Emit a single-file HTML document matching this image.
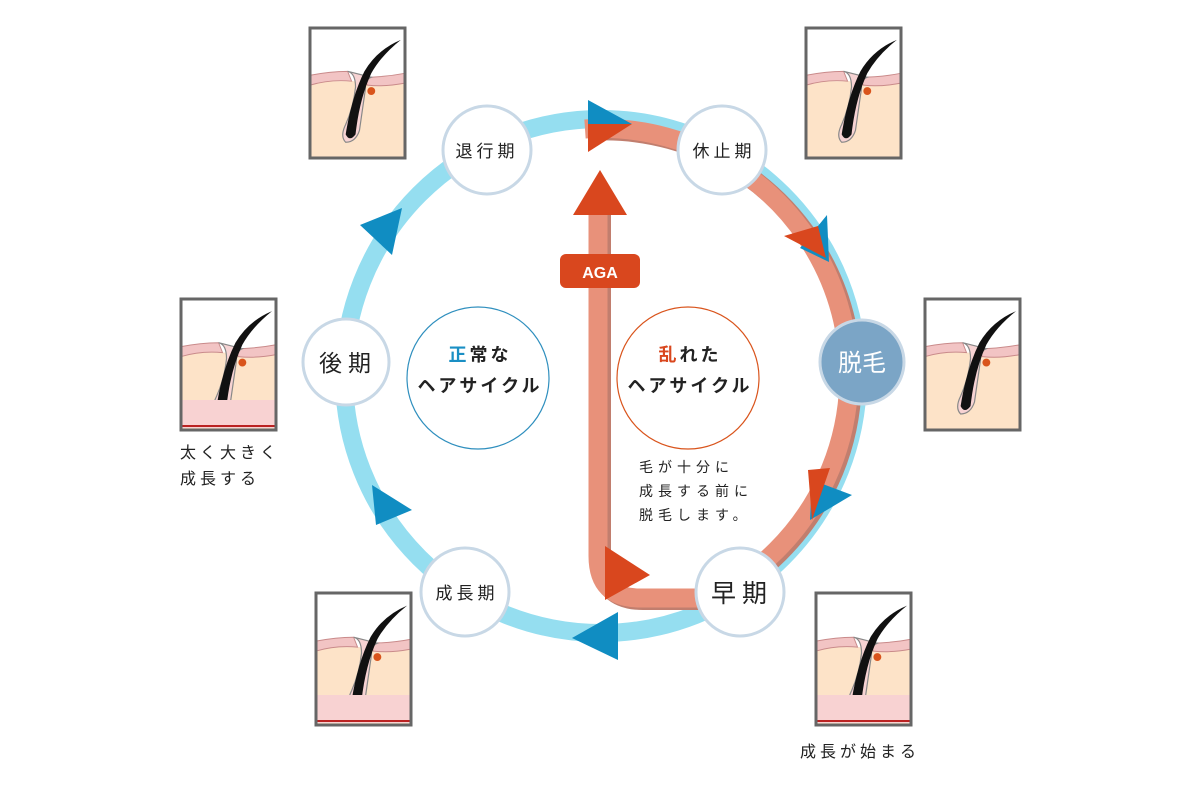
<!DOCTYPE html>
<html><head><meta charset="utf-8"><style>
body{margin:0;background:#fff;}
svg{display:block;}
text{font-family:"Liberation Sans","Noto Sans CJK JP",sans-serif;}
</style></head><body>
<svg width="1200" height="792" viewBox="0 0 1200 792" xmlns="http://www.w3.org/2000/svg">
<defs>
<symbol id="hair" viewBox="0 0 96 132">
<rect x="0" y="0" width="96" height="132" fill="#fff"/>
<rect x="0" y="54" width="96" height="78" fill="#fde3c8"/>
<path d="M0,48 Q20,44 38,44 L42,54 Q20,52 0,58 Z" fill="#f2c4c4" stroke="#c98a8a" stroke-width="1"/>
<path d="M54,50 Q75,50 96,46 L96,56 Q75,60 58,58 Z" fill="#f2c4c4" stroke="#c98a8a" stroke-width="1"/>
<path d="M38,44 Q46,46 46,60 Q44,80 36,98 Q30,110 36,116 Q46,116 50,104 L56,62 Q56,52 62,50 Z" fill="#f7d3d3" stroke="#888" stroke-width="1.2"/>
<path d="M36,108 Q42,70 55,44 Q68,22 92,12 Q72,28 62,46 Q50,72 46,108 Q40,116 36,108Z" fill="#111"/>
<circle cx="62" cy="64" r="4" fill="#d9541c"/>
</symbol>
</defs>

<circle cx="601" cy="376" r="257" fill="none" stroke="#95def0" stroke-width="18"/>
<path d="M585,129 A247,247 0 0 1 709,598 L640,598 Q598,598 598,556 L598,212" fill="none" stroke="#c17e6e" stroke-width="20" transform="translate(3,2)"/>
<path d="M585,129 A247,247 0 0 1 709,598 L640,598 Q598,598 598,556 L598,212" fill="none" stroke="#e8917a" stroke-width="19"/>
<polygon points="573,215 627,215 600,170" fill="#d9471e"/>
<rect x="560" y="254" width="80" height="34" rx="6" fill="#d9471e"/>
<text x="600" y="278" font-size="16" font-weight="bold" fill="#fff" text-anchor="middle">AGA</text>

<polygon points="588,100 632,124 588,124" fill="#108dc2"/>
<polygon points="827,215 829,262 800,248" fill="#108dc2"/>
<polygon points="852,495 810,520 812,480" fill="#108dc2"/>
<polygon points="618,612 618,660 572,638" fill="#108dc2"/>
<polygon points="372,485 412,510 376,525" fill="#108dc2"/>
<polygon points="360,225 402,208 392,255" fill="#108dc2"/>
<polygon points="588,124 632,124 588,152" fill="#d9471e"/>
<polygon points="784,236 818,226 826,258" fill="#d9471e"/>
<polygon points="808,470 830,468 812,520" fill="#d9471e"/>
<polygon points="605,546 650,575 605,600" fill="#d9471e"/>

<g stroke="#c8d8e6" stroke-width="3" fill="#fff">
<circle cx="487" cy="150" r="44"/>
<circle cx="722" cy="150" r="44"/>
<circle cx="346" cy="362" r="43"/>
<circle cx="740" cy="592" r="44"/>
<circle cx="465" cy="592" r="44"/>
</g>
<circle cx="862" cy="362" r="42" fill="#7ba5c6" stroke="#c8d8e6" stroke-width="3"/>
<g font-size="17" fill="#222" text-anchor="middle">
<text x="487" y="157" letter-spacing="4">退行期</text>
<text x="724" y="157" letter-spacing="4">休止期</text>
<text x="467" y="599" letter-spacing="4">成長期</text>
</g>
<text x="348" y="371" font-size="23" fill="#222" text-anchor="middle" letter-spacing="6">後期</text>
<text x="742" y="602" font-size="25" fill="#222" text-anchor="middle" letter-spacing="6">早期</text>
<text x="862" y="371" font-size="24" fill="#fff" text-anchor="middle">脱毛</text>

<circle cx="478" cy="378" r="71" fill="#fff" stroke="#2f8fbe" stroke-width="1.2"/>
<circle cx="688" cy="378" r="71" fill="#fff" stroke="#d9541c" stroke-width="1.2"/>
<g font-size="18" font-weight="bold" fill="#222" text-anchor="middle">
<text x="480" y="361" letter-spacing="3"><tspan fill="#1a8fc4">正</tspan>常な</text>
<text x="480" y="392" letter-spacing="3">ヘアサイクル</text>
<text x="690" y="361" letter-spacing="3"><tspan fill="#d9471e">乱</tspan>れた</text>
<text x="690" y="392" letter-spacing="3">ヘアサイクル</text>
</g>
<g font-size="14" fill="#222" letter-spacing="5">
<text x="639" y="472">毛が十分に</text>
<text x="639" y="496">成長する前に</text>
<text x="639" y="520">脱毛します。</text>
</g>
<g font-size="16" fill="#222" letter-spacing="4">
<text x="180" y="458">太く大きく</text>
<text x="180" y="484">成長する</text>
<text x="800" y="757">成長が始まる</text>
</g>

<use href="#hair" x="310" y="28" width="95" height="130"/>
<use href="#hair" x="806" y="28" width="95" height="130"/>
<use href="#hair" x="181" y="299" width="95" height="131"/>
<use href="#hair" x="925" y="299" width="95" height="131"/>
<use href="#hair" x="316" y="593" width="95" height="132"/>
<use href="#hair" x="816" y="593" width="95" height="132"/>
<rect x="182" y="400" width="93" height="28" fill="#f8d2d2"/>
<rect x="317" y="695" width="93" height="28" fill="#f8d2d2"/>
<rect x="817" y="695" width="93" height="28" fill="#f8d2d2"/>
<path d="M182,426 L275,426 M317,721 L410,721 M817,721 L910,721" stroke="#b22" stroke-width="2"/>
<g stroke="#666" stroke-width="3" fill="none">
<rect x="310" y="28" width="95" height="130"/>
<rect x="806" y="28" width="95" height="130"/>
<rect x="181" y="299" width="95" height="131"/>
<rect x="925" y="299" width="95" height="131"/>
<rect x="316" y="593" width="95" height="132"/>
<rect x="816" y="593" width="95" height="132"/>
</g>
</svg>
</body></html>
